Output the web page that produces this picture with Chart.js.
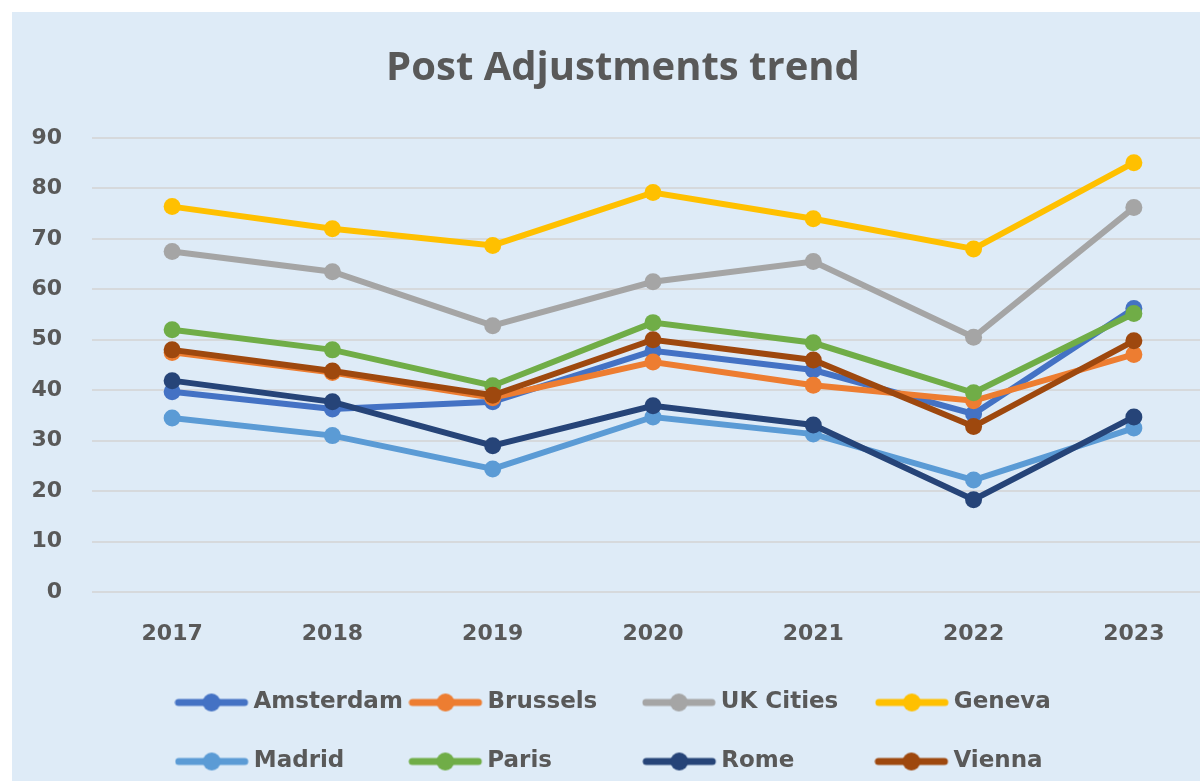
<!DOCTYPE html>
<html>
<head>
<meta charset="utf-8">
<script src="https://cdn.jsdelivr.net/npm/chart.js@4.4.0/dist/chart.umd.min.js"></script>
<style>
  html, body { margin: 0; padding: 0; background: #fff; overflow: hidden; width: 1200px; height: 781px; }
  #wrap { position: absolute; left: 12px; top: 12px; width: 1220px; height: 771px; background: #deebf7; }
</style>
</head>
<body>
<div id="wrap"><canvas id="trendChart" width="1220" height="771"></canvas></div>
<script>
const years = ['2017', '2018', '2019', '2020', '2021', '2022', '2023'];

const amsterdam = [39.7, 36.3, 37.7, 47.8, 44.0, 35.3, 56.2];
const brussels  = [47.5, 43.5, 38.5, 45.6, 41.0, 37.9, 47.1];
const ukCities  = [67.5, 63.5, 52.8, 61.5, 65.5, 50.5, 76.2];
const geneva    = [76.4, 72.0, 68.7, 79.2, 74.0, 68.0, 85.1];
const madrid    = [34.5, 31.0, 24.4, 34.7, 31.3, 22.2, 32.5];
const paris     = [52.0, 48.0, 40.9, 53.4, 49.4, 39.5, 55.2];
const rome      = [41.9, 37.7, 29.0, 36.9, 33.1, 18.3, 34.7];
const vienna    = [48.0, 43.8, 39.0, 50.0, 46.0, 32.8, 49.8];

const seriesNames  = ['Amsterdam', 'Brussels', 'UK Cities', 'Geneva', 'Madrid', 'Paris', 'Rome', 'Vienna'];
const seriesValues = [amsterdam, brussels, ukCities, geneva, madrid, paris, rome, vienna];
const seriesColors = ['#4472c4', '#ed7d31', '#a5a5a5', '#ffc000', '#5b9bd5', '#70ad47', '#264478', '#9e480e'];

const yMin = 0, yMax = 90, yStep = 10;

const textGrey = '#595959';
const boldFont = "'DejaVu Sans', sans-serif";

// legend: two rows laid out in equal columns like the Excel original
const legendSize = 23;
const legendPad = 36;
const columnPitch = 234;

const measureCtx = document.createElement('canvas').getContext('2d');
measureCtx.font = 'bold ' + legendSize + 'px "DejaVu Sans"';
const textWidth = t => measureCtx.measureText(t).width;
const colText = Math.max(...seriesNames.map(textWidth));

function padLabel(t) {
    let s = t;
    while (textWidth(s + ' ') <= colText) s += ' ';
    while (textWidth(s + '\u200A') <= colText && textWidth(s + '\u200A') > textWidth(s)) s += '\u200A';
    return s;
}

const boxW = columnPitch - legendSize / 2 - colText - legendPad;

function legendMarker(color) {
    const lineEnd = boxW / 2 + 6; // relative to the marker centre
    const lineStart = lineEnd - 73;
    const half = Math.ceil(Math.max(Math.abs(lineStart), Math.abs(lineEnd)));
    const c = document.createElement('canvas');
    c.width = half * 2;
    c.height = 22;
    const g = c.getContext('2d');
    g.strokeStyle = color;
    g.fillStyle = color;
    g.lineWidth = 7;
    g.lineCap = 'round';
    g.beginPath();
    g.moveTo(half + lineStart + 3.5, 11);
    g.lineTo(half + lineEnd - 3.5, 11);
    g.stroke();
    g.beginPath();
    g.arc(half + (lineStart + lineEnd) / 2, 11, 9, 0, Math.PI * 2);
    g.fill();
    return c;
}
const markers = seriesColors.map(legendMarker);

const datasets = seriesNames.map((name, i) => ({
    label: name,
    data: seriesValues[i],
    borderColor: seriesColors[i],
    backgroundColor: seriesColors[i],
    pointBackgroundColor: seriesColors[i],
    pointBorderColor: seriesColors[i],
    borderWidth: 6,
    pointRadius: 8.5,
    pointBorderWidth: 0,
    tension: 0,
    order: seriesNames.length - 1 - i // later series on top, as in Excel
}));

new Chart(document.getElementById('trendChart'), {
    type: 'line',
    data: { labels: years, datasets: datasets },
    options: {
        responsive: false,
        animation: false,
        devicePixelRatio: 1,
        layout: { padding: { left: 20, right: 18, top: 0, bottom: 0 } },
        plugins: {
            title: {
                display: true,
                text: 'Post Adjustments trend',
                color: textGrey,
                font: { family: "'Open Sans', sans-serif", size: 40, weight: 'bold' },
                padding: { top: 32.5, bottom: 45.5 }
            },
            legend: {
                position: 'bottom',
                fullSize: false,
                labels: {
                    usePointStyle: true,
                    pointStyleWidth: boxW,
                    padding: legendPad,
                    color: textGrey,
                    font: { family: boldFont, size: legendSize, weight: 'bold' },
                    generateLabels(chart) {
                        const items = Chart.defaults.plugins.legend.labels.generateLabels(chart);
                        items.sort((a, b) => a.datasetIndex - b.datasetIndex);
                        items.forEach(item => {
                            item.text = padLabel(item.text);
                            item.pointStyle = markers[item.datasetIndex];
                            item.fontColor = textGrey;
                        });
                        return items;
                    }
                }
            },
            tooltip: { enabled: false }
        },
        scales: {
            x: {
                offset: true,
                grid: { display: false },
                border: { display: false },
                ticks: { color: textGrey, font: { family: boldFont, size: 22, weight: 'bold' }, padding: 21 },
                afterFit(scale) { scale.height = 63; }
            },
            y: {
                min: yMin,
                max: yMax,
                border: { display: false },
                grid: { color: '#d6d9dc', lineWidth: 2, drawTicks: false },
                ticks: { stepSize: yStep, color: textGrey, font: { family: boldFont, size: 22, weight: 'bold' }, padding: 30 },
                afterFit(scale) { scale.width = 60; }
            }
        }
    }
});
</script>
</body>
</html>
